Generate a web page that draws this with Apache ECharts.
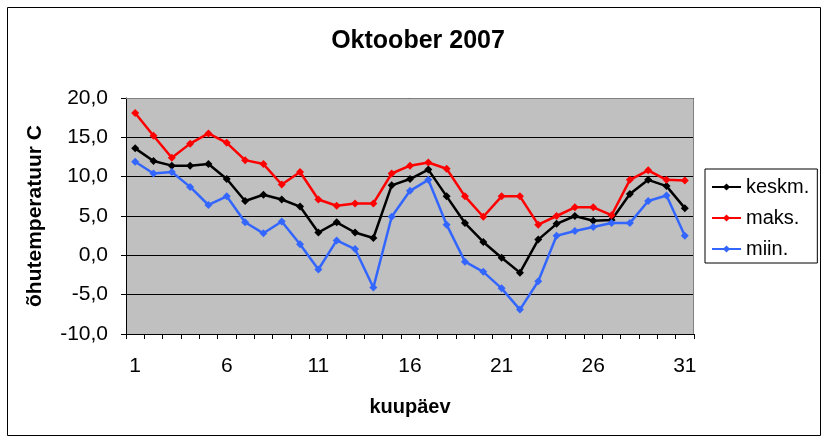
<!DOCTYPE html>
<html>
<head>
<meta charset="utf-8">
<script src="https://cdn.jsdelivr.net/npm/echarts@6/dist/echarts.min.js"></script>
<style>
  html, body { margin: 0; padding: 0; background: #fff; }
  #chart { width: 828px; height: 441px; }
</style>
</head>
<body>
<div id="chart"></div>
<script>
// päevad 1..31
const days = Array.from({ length: 31 }, (_, i) => String(i + 1))

const keskm = [13.6, 12.0, 11.4, 11.4, 11.6, 9.7, 6.9, 7.7, 7.1, 6.2,
  2.9, 4.2, 2.9, 2.2, 8.9, 9.7, 10.9, 7.5, 4.1, 1.7,
  -0.3, -2.2, 2.0, 4.0, 5.0, 4.4, 4.5, 7.8, 9.6, 8.8, 6.0]
const maks = [18.1, 15.2, 12.4, 14.2, 15.5, 14.3, 12.1, 11.6, 9.0, 10.6,
  7.1, 6.3, 6.6, 6.6, 10.4, 11.4, 11.8, 11.0, 7.5, 4.9,
  7.5, 7.5, 3.9, 5.0, 6.1, 6.1, 5.1, 9.6, 10.8, 9.6, 9.5]
const miin = [11.9, 10.4, 10.6, 8.7, 6.4, 7.5, 4.2, 2.8, 4.3, 1.4,
  -1.8, 1.9, 0.8, -4.1, 4.9, 8.2, 9.6, 3.9, -0.8, -2.1,
  -4.2, -6.9, -3.3, 2.5, 3.1, 3.6, 4.1, 4.1, 6.9, 7.6, 2.5]

const font = 'Liberation Sans, Arial, sans-serif'

function lineSeries(name, color, data) {
  return {
    name: name,
    type: 'line',
    data: data,
    symbol: 'diamond',
    symbolSize: 8,
    lineStyle: { color: color, width: 2.5 },
    itemStyle: { color: color },
    animation: false
  }
}

let myChart = echarts.init(document.getElementById('chart'))
myChart.setOption({
  backgroundColor: '#fff',
  animation: false,
  title: {
    text: 'Oktoober 2007',
    left: 413,
    top: 24,
    textAlign: 'center',
    textStyle: { fontFamily: font, fontSize: 25, fontWeight: 'bold', color: '#000' }
  },
  graphic: [
    {
      type: 'rect',
      shape: { x: 7.5, y: 7.5, width: 813, height: 428 },
      style: { fill: 'none', stroke: '#000', lineWidth: 1 },
      z: 0
    },
    {
      // plot area top and right border
      type: 'polyline',
      shape: { points: [[126, 98.5], [693.5, 98.5], [693.5, 334]] },
      style: { stroke: '#808080', lineWidth: 1, fill: 'none' },
      z: 5
    }
  ],
  legend: {
    orient: 'vertical',
    left: 705,
    top: 169,
    data: ['keskm.', 'maks.', 'miin.'],
    backgroundColor: '#fff',
    borderColor: '#000',
    borderWidth: 1,
    padding: [8, 8, 4, 6],
    itemWidth: 29,
    itemHeight: 9,
    itemGap: 11,
    textStyle: { fontFamily: font, fontSize: 20, color: '#000' }
  },
  grid: {
    left: 126,
    right: 134,
    top: 98,
    bottom: 107,
    show: true,
    backgroundColor: '#c0c0c0',
    borderWidth: 0
  },
  xAxis: {
    type: 'category',
    data: days,
    boundaryGap: true,
    name: 'kuupäev',
    nameLocation: 'middle',
    nameGap: 63,
    nameTextStyle: { fontFamily: font, fontSize: 20, fontWeight: 'bold', color: '#000' },
    axisLine: { onZero: false, lineStyle: { color: '#000', width: 1 } },
    axisTick: { show: true, interval: 0, length: 5, lineStyle: { color: '#000' } },
    axisLabel: {
      interval: 4,
      margin: 22,
      fontFamily: font,
      fontSize: 21,
      color: '#000'
    },
    splitLine: { show: false }
  },
  yAxis: {
    type: 'value',
    min: -10,
    max: 20,
    interval: 5,
    name: 'õhutemperatuur C',
    nameLocation: 'middle',
    nameGap: 80,
    nameRotate: 90,
    nameTextStyle: { fontFamily: font, fontSize: 21, fontWeight: 'bold', color: '#000' },
    axisLine: { show: true, lineStyle: { color: '#000', width: 1 } },
    axisTick: { show: true, length: 5, lineStyle: { color: '#000' } },
    axisLabel: {
      margin: 18,
      fontFamily: font,
      fontSize: 21,
      color: '#000',
      formatter: v => v.toFixed(1).replace('.', ',')
    },
    splitLine: { show: true, lineStyle: { color: '#000', width: 1 } }
  },
  series: [
    lineSeries('keskm.', '#000000', keskm),
    lineSeries('maks.', '#ff0000', maks),
    lineSeries('miin.', '#3366ff', miin)
  ]
})
</script>
</body>
</html>
